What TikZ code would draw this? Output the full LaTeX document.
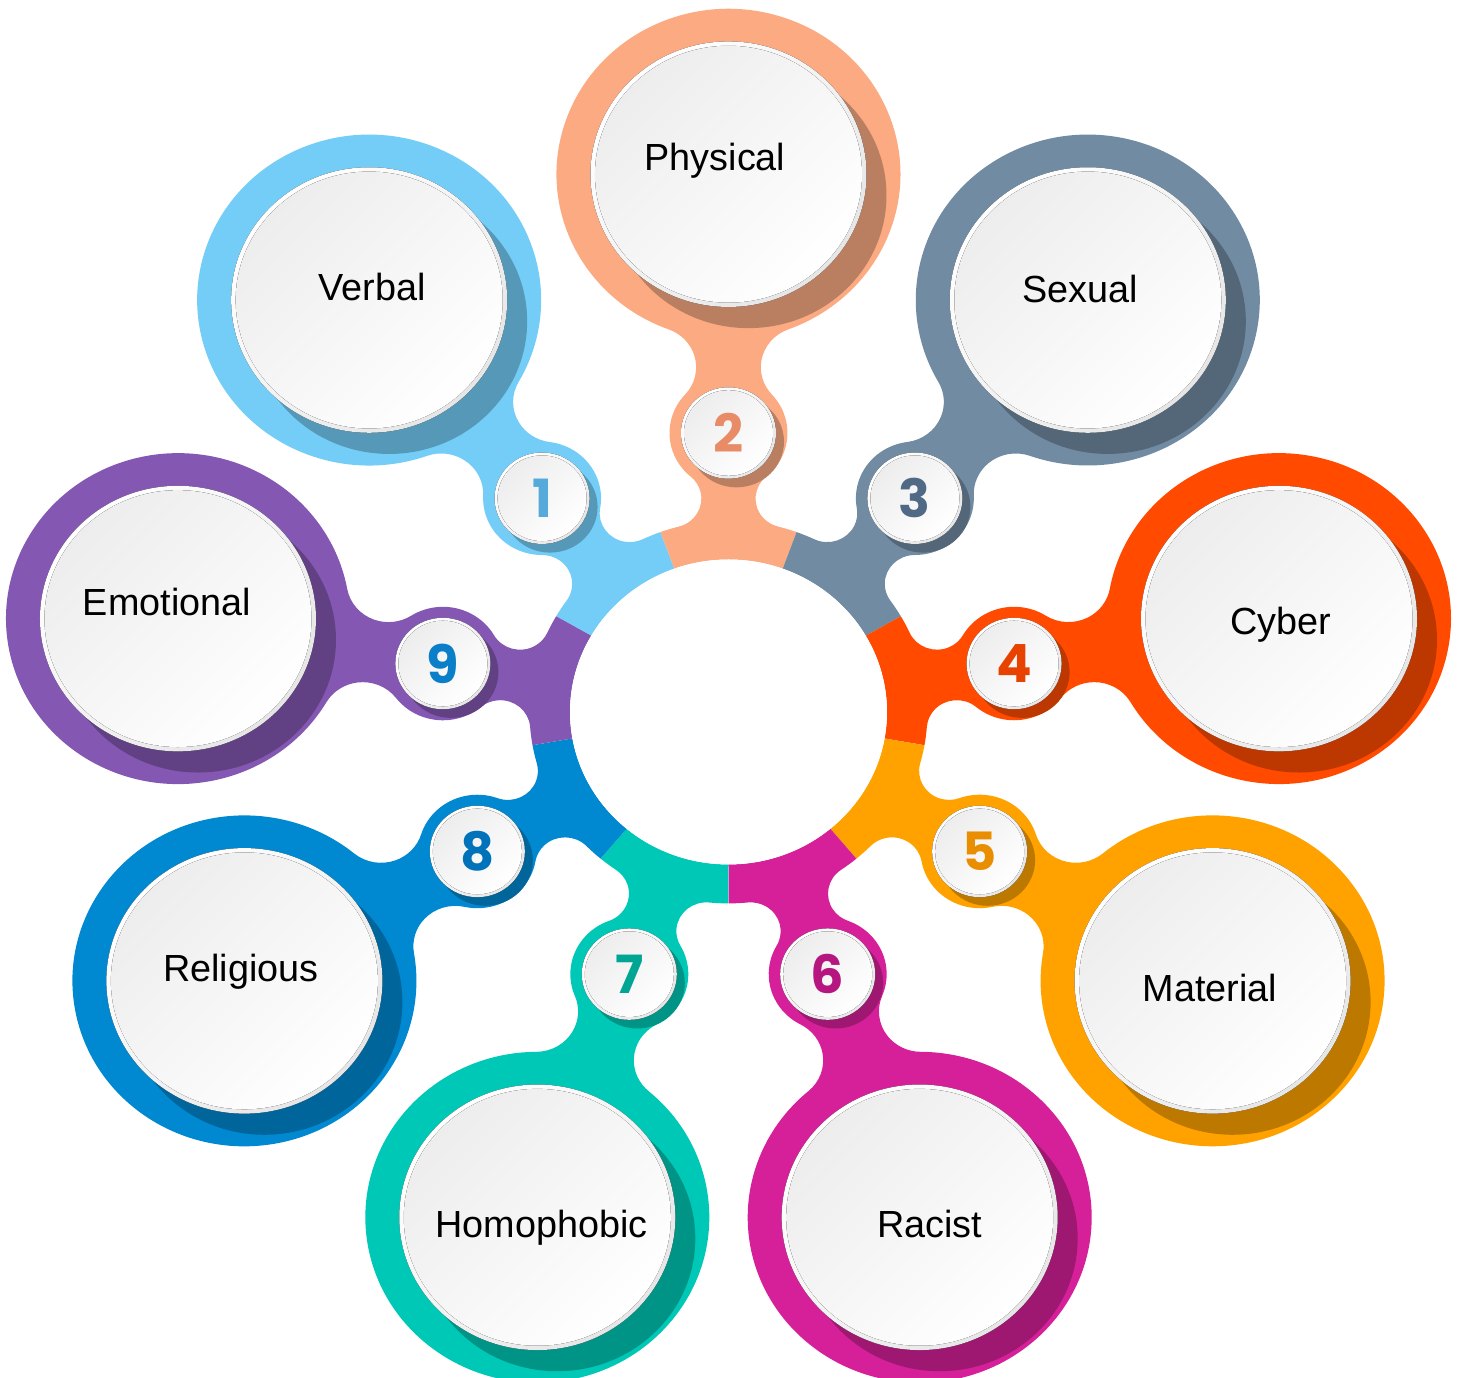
\documentclass[tikz,border=0pt]{standalone}
\usepackage{fontspec}
\setmainfont{Liberation Sans}
\newfontfamily\numfont{Poppins}
\usetikzlibrary{calc}

\definecolor{verbal}{RGB}{116,205,247}
\definecolor{physical}{RGB}{251,170,130}
\definecolor{sexual}{RGB}{113,139,163}
\definecolor{cyber}{RGB}{255,74,0}
\definecolor{material}{RGB}{255,162,0}
\definecolor{racist}{RGB}{214,32,154}
\definecolor{homophobic}{RGB}{0,200,182}
\definecolor{religious}{RGB}{0,136,209}
\definecolor{emotional}{RGB}{132,87,178}
\definecolor{numverbal}{RGB}{86,170,218}
\definecolor{numphysical}{RGB}{232,140,104}
\definecolor{numsexual}{RGB}{80,106,134}
\definecolor{numcyber}{RGB}{232,66,0}
\definecolor{nummaterial}{RGB}{232,142,0}
\definecolor{numracist}{RGB}{182,22,128}
\definecolor{numhomophobic}{RGB}{0,165,148}
\definecolor{numreligious}{RGB}{0,114,186}
\definecolor{numemotional}{RGB}{10,126,200}

\tikzset{
  rim/.style={shading=axis, top color=white, bottom color=black!10, shading angle=45},
  face/.style={shading=axis, top color=black!7, bottom color=white, shading angle=45},
  caption/.style={font=\fontsize{21.5}{26}\selectfont, text=black, anchor=base},
  digit/.style={font=\numfont\bfseries\fontsize{30}{30}\selectfont}
}

% #1 angle, #2 colour/name, #3 number, #4 text, #5,#6 text offset
\newcommand{\DrawPetal}[6]{
  \begin{scope}[rotate=#1]
    \fill[#2] (20:158.5) -- (20:199) arc[start angle=20, end angle=14.45, radius=199]
      arc[start angle=194.45, end angle=320.06, radius=30]
      arc[start angle=140.06, end angle=47.42, radius=59]
      arc[start angle=227.42, end angle=339.67, radius=42]
      arc[start angle=159.67, end angle=-159.67, radius=172]
      arc[start angle=20.33, end angle=132.58, radius=42]
      arc[start angle=-47.42, end angle=-140.06, radius=59]
      arc[start angle=39.94, end angle=165.55, radius=30]
      arc[start angle=-14.45, end angle=-20, radius=199]
      -- (-20:158.5) arc[start angle=-20, end angle=20, radius=158.5] -- cycle;
  \end{scope}
  \coordinate (#2-c) at (#1:559);
  \coordinate (#2-n) at (#1:290);
  \fill[#2!74!black] ($(#2-c)+(20,-22)$) circle[radius=138];
  \fill[rim] (#2-c) circle[radius=138];
  \fill[face] (#2-c) circle[radius=133.5];
  \fill[#2!74!black] ($(#2-n)+(8,-9)$) circle[radius=47.5];
  \fill[rim] (#2-n) circle[radius=47.5];
  \fill[face] (#2-n) circle[radius=44.5];
  \node[digit, text=num#2] (#2-num) at (#2-n) {#3};
  \node[caption] (#2) at ($(#2-c)+(#5,#6)$) {#4};
}

\begin{document}
\begin{tikzpicture}[x=0.02cm, y=0.02cm, yscale=0.962]
  \useasboundingbox (-728.5,-691.3) rectangle (732.5,740.1);

  % Petals
  \DrawPetal{130}{verbal}{1}{Verbal}{3}{-0.4}
  \DrawPetal{90}{physical}{2}{Physical}{-13.5}{3.9}
  \DrawPetal{50}{sexual}{3}{Sexual}{-8}{-2.5}
  \DrawPetal{10}{cyber}{4}{Cyber}{2}{-17}
  \DrawPetal{-30}{material}{5}{Material}{-2.6}{-21.4}
  \DrawPetal{-70}{racist}{6}{Racist}{10}{-21}
  \DrawPetal{-110}{homophobic}{7}{Homophobic}{4}{-21}
  \DrawPetal{-150}{religious}{8}{Religious}{-3.5}{-0.6}
  \DrawPetal{170}{emotional}{9}{Emotional}{-11}{3.3}

  % Centre
  \fill[white] (0,0) circle[radius=158.5];
\end{tikzpicture}
\end{document}
